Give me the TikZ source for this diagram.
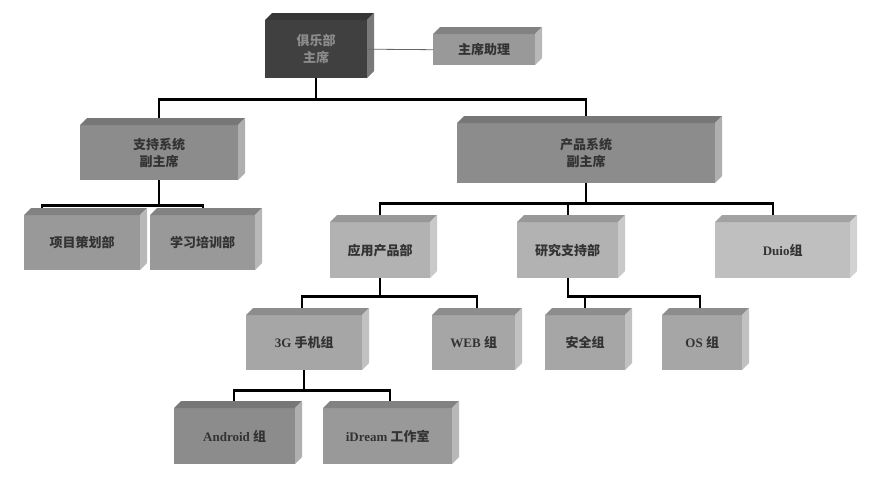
\documentclass[tikz,border=0pt]{standalone}
\usepackage{fontspec}
\setmainfont{Liberation Serif}
\newfontfamily\cjk{Noto Sans CJK SC}
\begin{document}
\begin{tikzpicture}[x=1pt,y=-1pt,
  lnk/.style={line width=2.2pt,black},
  lbl/.style={font=\bfseries\fontsize{13}{17}\selectfont,text=black!80,align=center}]
\useasboundingbox (0,0) rectangle (885,493);
\newcommand\cube[7]{%
  \colorlet{cf}{#6}%
  \fill[cf] (#2,#3) rectangle (#4,#5);
  \fill[cf!85!black] (#2,#3) -- ++(7,-7) -- (#4+7,#3-7) -- (#4,#3) -- cycle;
  \fill[cf!70!white] (#4,#3) -- ++(7,-7) -- (#4+7,#5-7) -- (#4,#5) -- cycle;
  \node[lbl,minimum width=#4-#2,minimum height=#5-#3,anchor=north west,inner sep=0] (#1) at (#2,#3) {#7};}
\cube{chair}{265}{20}{367}{78}{black!75}{\color{black!45}{\cjk 俱乐部}\\\color{black!45}{\cjk 主席}}
\cube{asst}{433}{34}{535}{65}{black!40}{\cjk 主席助理}
\cube{sup}{80}{125}{238}{180}{black!45}{{\cjk 支持系统}\\{\cjk 副主席}}
\cube{prod}{457}{123}{715}{183}{black!45}{{\cjk 产品系统}\\{\cjk 副主席}}
\cube{xm}{24}{215}{140}{270}{black!40}{\cjk 项目策划部}
\cube{xx}{150}{215}{255}{270}{black!40}{\cjk 学习培训部}
\cube{yy}{330}{222}{430}{278}{black!30}{\cjk 应用产品部}
\cube{yj}{517}{222}{618}{278}{black!30}{\cjk 研究支持部}
\cube{duio}{715}{222}{850}{278}{black!25}{Duio{\cjk 组}}
\cube{g3}{246}{315}{362}{370}{black!35}{3G {\cjk 手机组}}
\cube{web}{432}{315}{515}{370}{black!35}{WEB {\cjk 组}}
\cube{aq}{545}{315}{625}{370}{black!35}{\cjk 安全组}
\cube{os}{662}{315}{742}{370}{black!35}{OS {\cjk 组}}
\cube{and}{174}{408}{295}{464}{black!45}{Android {\cjk 组}}
\cube{idr}{323}{408}{452}{464}{black!40}{iDream {\cjk 工作室}}
\draw[black!60,line width=0.8pt] (chair.east) -- (asst.west);
\draw[lnk] (chair.south) -- ++(0,21) -| ([yshift=7]sup.north);
\draw[lnk] (chair.south) ++(0,21) -| ([yshift=7]prod.north);
\draw[lnk] (sup.south) -- ++(0,25) -| ([xshift=-40,yshift=7]xm.north);
\draw[lnk] (sup.south) ++(0,25) -| ([xshift=0,yshift=7]xx.north);
\coordinate (pj) at ([yshift=-20]prod.south);
\draw[lnk] (prod.south) -- (pj) -| ([yshift=7]yy.north);
\draw[lnk] (pj) -| ([xshift=0,yshift=7]yj.north);
\draw[lnk] (pj) -| ([xshift=-10,yshift=7]duio.north);
\coordinate (yyj) at ([yshift=-18]yy.south);
\draw[lnk] (yy.south) -- (yyj) -| ([xshift=-2,yshift=7]g3.north);
\draw[lnk] (yyj) -| ([xshift=3,yshift=7]web.north);
\coordinate (yjj) at ([yshift=-18]yj.south);
\draw[lnk] (yj.south) -- (yjj) -| ([yshift=7]aq.north);
\draw[lnk] (yjj) -| ([xshift=-2,yshift=7]os.north);
\coordinate (gj) at ([yshift=-20]g3.south);
\draw[lnk] (g3.south) -- (gj) -| ([xshift=-1,yshift=7]and.north);
\draw[lnk] (gj) -| ([xshift=2,yshift=7]idr.north);
\end{tikzpicture}
\end{document}
